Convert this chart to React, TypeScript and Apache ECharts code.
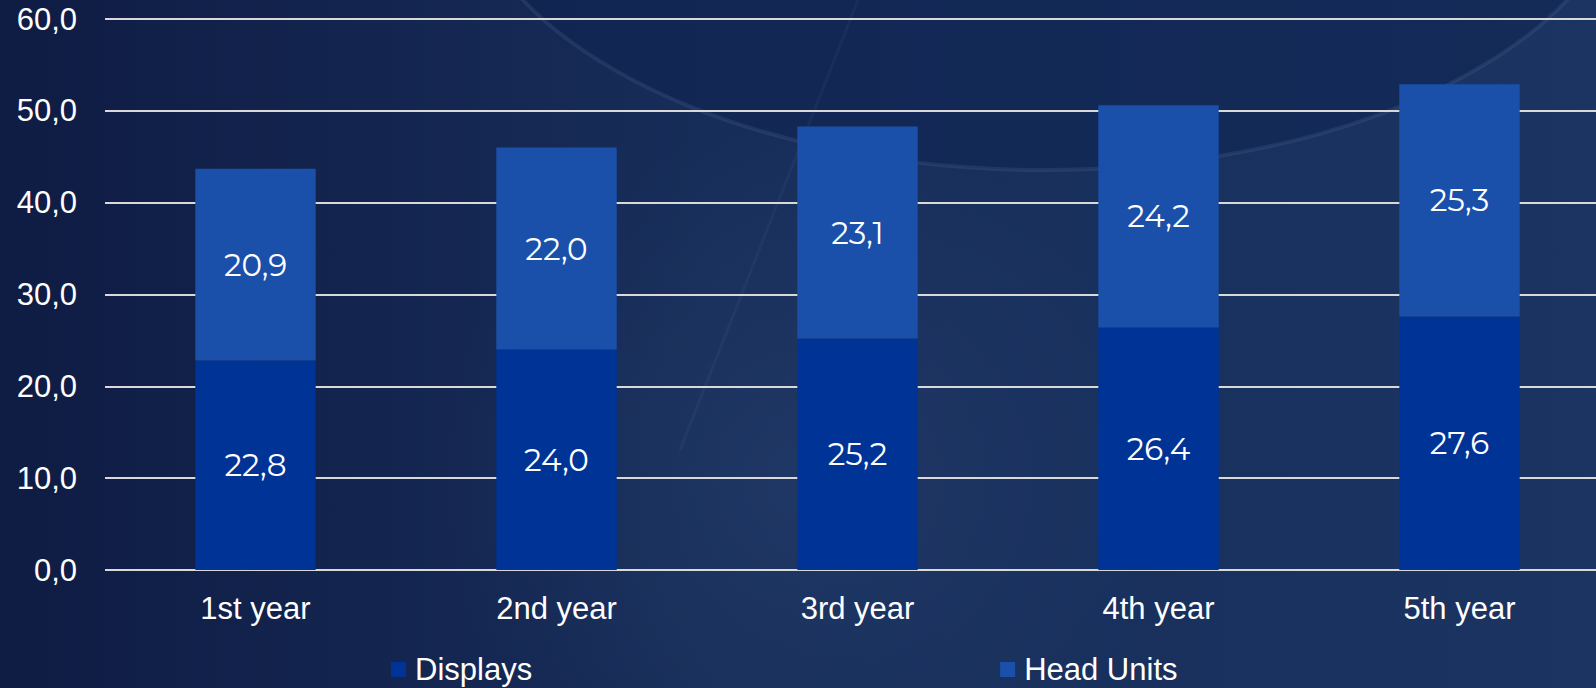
import React, { useEffect, useRef } from "react";
import * as echarts from "echarts";

const categories = ["1st year", "2nd year", "3rd year", "4th year", "5th year"];
const displays = [22.8, 24.0, 25.2, 26.4, 27.6];
const headUnits = [20.9, 22.0, 23.1, 24.2, 25.3];
const seriesNames = ["Displays", "Head Units"];

const fmt = (v: number) => Number(v).toFixed(1).replace(".", ",");

export default function App() {
  const ref = useRef<HTMLDivElement>(null);
  useEffect(() => {
    if (!ref.current) return;
    const chart = echarts.init(ref.current, null, { renderer: "svg" });
    const axisFont = "'Liberation Sans', Arial, sans-serif";
    const labelFont = "Montserrat, 'Noto Sans', 'Open Sans', sans-serif";
    chart.setOption({
      animation: false,
      backgroundColor: {
        type: "linear",
        x: 0,
        y: 0,
        x2: 1,
        y2: 0,
        colorStops: [
          { offset: 0, color: "#0f1c44" },
          { offset: 0.45, color: "#172d59" },
          { offset: 1, color: "#1b3462" },
        ],
      },
      graphic: [
        {
          type: "circle",
          z: -20,
          silent: true,
          shape: { cx: 800, cy: 480, r: 360 },
          style: {
            fill: {
              type: "radial",
              x: 0.5,
              y: 0.5,
              r: 0.5,
              colorStops: [
                { offset: 0, color: "rgba(60,90,140,0.22)" },
                { offset: 1, color: "rgba(60,90,140,0)" },
              ],
            },
          },
        },
        {
          type: "ellipse",
          z: -10,
          silent: true,
          shape: { cx: 1045, cy: -140, rx: 585, ry: 310 },
          style: {
            fill: "rgba(14,34,80,0.55)",
            stroke: "rgba(120,150,200,0.14)",
            lineWidth: 4,
          },
        },
        {
          type: "line",
          z: -10,
          silent: true,
          shape: { x1: 858, y1: 0, x2: 680, y2: 450 },
          style: { stroke: "rgba(120,150,200,0.07)", lineWidth: 3 },
        },
      ],
      grid: {
        left: 105,
        top: 19,
        width: 1505,
        height: 551,
        containLabel: false,
        outerBoundsMode: "none",
      },
      legend: {
        data: seriesNames,
        left: 386,
        top: 649,
        icon: "rect",
        itemWidth: 15,
        itemHeight: 15,
        itemGap: 468,
        textStyle: {
          color: "#ffffff",
          fontSize: 31,
          fontFamily: axisFont,
          padding: [0, 0, 0, 4],
        },
      },
      xAxis: {
        type: "category",
        data: categories,
        axisLine: { show: false },
        axisTick: { show: false },
        axisLabel: {
          color: "#ffffff",
          fontSize: 31,
          fontFamily: axisFont,
          margin: 23,
        },
      },
      yAxis: {
        type: "value",
        min: 0,
        max: 60,
        interval: 10,
        axisLine: { show: false },
        axisTick: { show: false },
        axisLabel: {
          color: "#ffffff",
          fontSize: 31,
          fontFamily: axisFont,
          margin: 28,
          formatter: (v: number) => fmt(v),
        },
        splitLine: { lineStyle: { color: "#d9d9d9", width: 2 } },
      },
      series: [
        {
          name: seriesNames[0],
          type: "bar",
          stack: "total",
          barWidth: "40%",
          data: displays,
          itemStyle: { color: "#003396" },
          label: {
            show: true,
            position: "inside",
            color: "#ffffff",
            fontSize: 31,
            fontFamily: labelFont,
            formatter: (p: any) => fmt(p.value),
          },
        },
        {
          name: seriesNames[1],
          type: "bar",
          stack: "total",
          barWidth: "40%",
          data: headUnits,
          itemStyle: { color: "#1a50aa" },
          label: {
            show: true,
            position: "inside",
            color: "#ffffff",
            fontSize: 31,
            fontFamily: labelFont,
            formatter: (p: any) => fmt(p.value),
          },
        },
      ],
    });
    return () => chart.dispose();
  }, []);
  return (
    <div
      ref={ref}
      style={{ position: "fixed", left: 0, top: 0, width: 1596, height: 688 }}
    />
  );
}
